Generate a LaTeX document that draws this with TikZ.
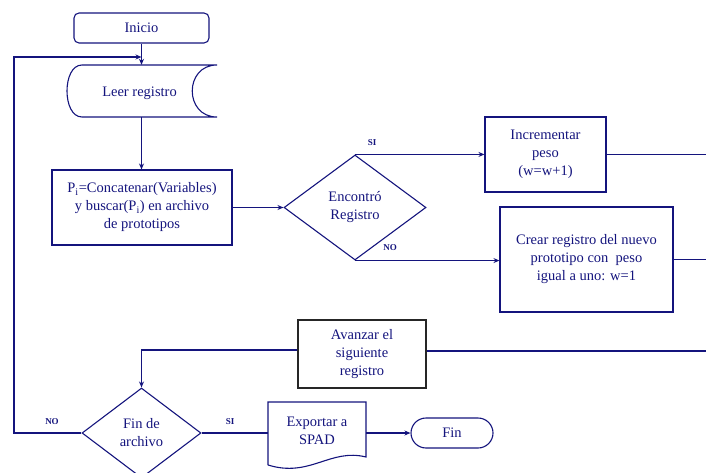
\documentclass[tikz,border=0pt]{standalone}
\usepackage{fontspec}
\setmainfont{Liberation Serif}
\usetikzlibrary{shapes.geometric,arrows.meta}
\definecolor{navy}{RGB}{20,20,125}
\begin{document}
\begin{tikzpicture}[x=1pt,y=-1pt,
  every node/.style={font=\fontsize{14.5}{18}\selectfont, text=navy, align=center, inner sep=0pt},
  ln/.style={draw=navy, line width=1.1pt},
  arr/.style={ln, -{Stealth[length=6pt,width=5pt]}},
  box/.style={draw=navy, line width=1.1pt, rectangle},
  dia/.style={draw=navy, line width=1.1pt, diamond},
  lbl/.style={font=\fontsize{9}{10}\selectfont\bfseries, text=navy}]
\useasboundingbox (0,0) rectangle (706,473);
% nodes
\node[box, rounded corners=5pt, minimum width=135pt, minimum height=30pt] (inicio) at (141.5,28) {Inicio};
\node[minimum width=150pt, minimum height=52pt] (leer) at (142,91) {};
\node (leertxt) at (139.5,93) {Leer registro};
\draw[ln] (82,65) -- (217,65) .. controls (184,65) and (184,117) .. (217,117) -- (82,117) .. controls (62,117) and (62,65) .. (82,65) -- cycle;
\node[box, minimum width=180pt, minimum height=75pt] (pi) at (142,207.5) {P\textsubscript{i}=Concatenar(Variables)\\y buscar(P\textsubscript{i}) en archivo\\de prototipos};
\node[dia, minimum width=142pt, minimum height=105pt] (enc) at (355,207.5) {Encontró\\Registro};
\node[box, minimum width=121pt, minimum height=75pt] (inc) at (545.5,154.5) {Incrementar\\peso\\(w=w+1)};
\node[box, minimum width=173pt, minimum height=105pt] (crear) at (586.5,259.5) {Crear registro del nuevo\\prototipo con\ \ peso\\igual a uno: w=1};
\node[draw=black!85, line width=1.1pt, rectangle, minimum width=128pt, minimum height=68pt] (avz) at (362,354) {Avanzar el\\siguiente\\registro};
\node[dia, minimum width=119pt, minimum height=90pt] (fda) at (141.5,433) {Fin de\\archivo};
\node[minimum width=98pt] (exp) at (317,431) {Exportar a\\SPAD};
\draw[ln] (268,465) -- (268,402) -- (366,402) -- (366,457) .. controls (330,448) and (310,478) .. (268,465);
\node[box, rounded corners=15pt, minimum width=82pt, minimum height=30pt] (fin) at (452,433) {Fin};
% free ends
\coordinate (e1) at (706,155);
\coordinate (e3) at (706,351);
\coordinate (lp) at (14,433);
\coordinate (j) at (141.5,57);
% connectors
\draw[arr] (inicio.south) -- (inicio.south |- leer.north);
\draw[arr] (leer.south -| inicio.south) -- (inicio.south |- pi.north);
\draw[arr] (pi.east) -- (enc.west);
\draw[arr] (enc.north) -- (enc.north -| inc.west);
\draw[arr] (enc.south) -- (enc.south -| crear.west);
\draw[ln] (inc.east) -- (inc.east -| e1);
\draw[ln] (crear.east) -- (crear.east -| e1);
\draw[ln] (avz.east |- e3) -- (e3);
\draw[arr] ([yshift=4pt]avz.west) -| (fda.north);
\draw[arr] (fda.west) -- (lp) |- (j);
\draw[ln] (fda.east) -- (fda.east -| exp.west);
\draw[arr] (fda.east -| exp.east) -- (fin.west);
% labels
\node[lbl] (l1) at (372,143) {SI};
\node[lbl] (l2) at (390,248) {NO};
\node[lbl] (l3) at (52,422) {NO};
\node[lbl] (l4) at (230,422) {SI};
\end{tikzpicture}
\end{document}
